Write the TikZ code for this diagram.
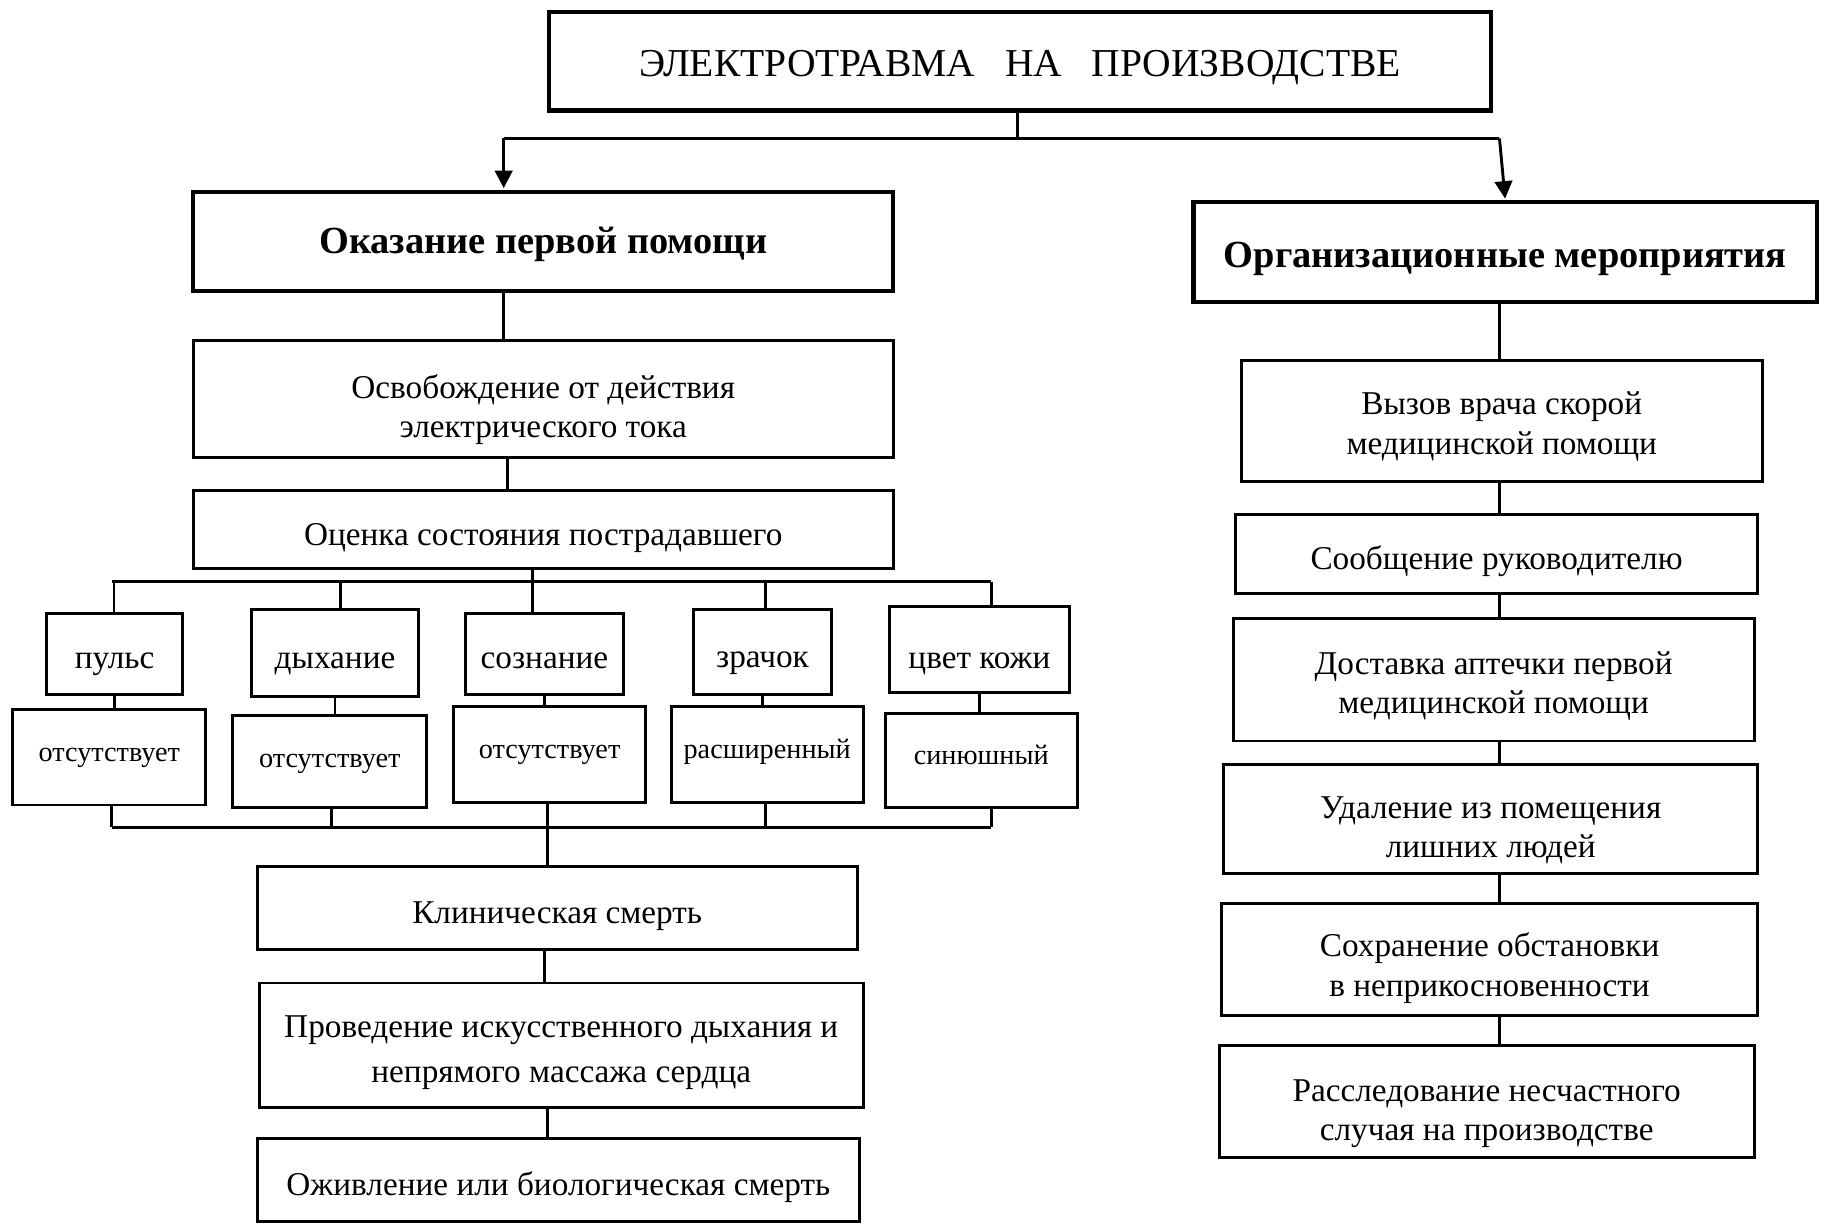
\documentclass[tikz,border=0pt]{standalone}
\usepackage{fontspec}
\setmainfont{Liberation Serif}
\usetikzlibrary{arrows.meta}

\begin{document}
\begin{tikzpicture}[x=1pt,y=-1pt,
	box/.style={draw,line width=2.5pt,inner sep=0pt,align=center,text height=33pt,text depth=6pt,font=\fontsize{28.6}{34}\selectfont},
	headbox/.style={box,line width=3.5pt,text height=27pt,text depth=7pt,font=\fontsize{33}{38}\selectfont\bfseries},
	parbox/.style={box,text height=31pt,text depth=5pt},
	valbox/.style={box,text height=13pt,text depth=6pt,font=\fontsize{24.3}{29}\selectfont},
	link/.style={line width=2.5pt},
	arr/.style={link,-{Triangle[length=15pt,width=15pt]},shorten >=1.5pt}]
			\useasboundingbox (0,0) rectangle (1568,1057);

			% top
			\node[box,line width=3.5pt,text height=26pt,text depth=0pt,font=\fontsize{34}{40}\selectfont,minimum width=810pt,minimum height=85pt] (title) at (877,52.5) {ЭЛЕКТРОТРАВМА\ \ \ НА\ \ \ ПРОИЗВОДСТВЕ};
			\node[headbox,minimum width=602pt,minimum height=85pt] (help) at (467,207.5) {Оказание первой помощи};
			\node[headbox,text height=33pt,minimum width=536pt,minimum height=86pt] (org) at (1294,217) {Организационные мероприятия};

			% first aid
			\node[box,text height=73pt,minimum width=602pt,minimum height=100pt] (osv) at (467,343) {Освобождение от действия\\электрического тока};
			\node[box,minimum width=602pt,minimum height=67pt] (ocen) at (467,455.5) {Оценка состояния пострадавшего};

			\node[parbox,minimum width=117pt,minimum height=70pt] (p1) at (98.5,562) {пульс};
			\node[parbox,minimum width=144pt,minimum height=75pt] (p2) at (288,561.5) {дыхание};
			\node[parbox,minimum width=136pt,minimum height=70pt] (p3) at (468,562) {сознание};
			\node[parbox,minimum width=119pt,minimum height=73pt] (p4) at (655.5,560.5) {зрачок};
			\node[parbox,text height=38pt,minimum width=154pt,minimum height=74pt] (p5) at (842,558) {цвет кожи};

			\node[valbox,minimum width=166pt,minimum height=82pt] (v1) at (94,651) {отсутствует};
			\node[valbox,text height=16pt,minimum width=167pt,minimum height=79pt] (v2) at (283.5,654.5) {отсутствует};
			\node[valbox,minimum width=165pt,minimum height=83pt] (v3) at (472.5,648.5) {отсутствует};
			\node[valbox,minimum width=165pt,minimum height=83pt] (v4) at (659.5,648.5) {расширенный};
			\node[valbox,minimum width=165pt,minimum height=81pt] (v5) at (843.5,653.5) {синюшный};

			\node[box,minimum width=516pt,minimum height=71pt] (klin) at (479,780.5) {Клиническая смерть};
			\node[box,text height=70pt,minimum width=519pt,minimum height=107pt,font=\fontsize{28.6}{39}\selectfont] (prov) at (482.5,898.5) {Проведение искусственного дыхания и\\непрямого массажа сердца};
			\node[box,minimum width=518pt,minimum height=71pt] (ozhiv) at (480,1014.5) {Оживление или биологическая смерть};

			% measures
			\node[box,text height=63pt,minimum width=448pt,minimum height=104pt] (r1) at (1291,362) {Вызов врача скорой\\медицинской помощи};
			\node[box,minimum width=449pt,minimum height=68pt] (r2) at (1286.5,476) {Сообщение руководителю};
			\node[box,text height=64pt,minimum width=448pt,minimum height=105pt] (r3) at (1284,584.5) {Доставка аптечки первой\\медицинской помощи};
			\node[box,text height=73pt,minimum width=459pt,minimum height=94pt] (r4) at (1281.5,704) {Удаление из помещения\\лишних людей};
			\node[box,text height=69pt,minimum width=461pt,minimum height=96pt] (r5) at (1280.5,825) {Сохранение обстановки\\в неприкосновенности};
			\node[box,text height=73pt,minimum width=460pt,minimum height=96pt] (r6) at (1278,947) {Расследование несчастного\\случая на производстве};

			% connectors
			\coordinate (split) at (875,119);
			\coordinate (sl) at (433,119);
			\coordinate (sr) at (1289,119);
			\draw[link] (title.south -| split) -- (split);
			\draw[link] (sl) -- (sr);
			\draw[arr] (sl) -- (sl |- help.north);
			\draw[arr] (sr) -- (org.north);

			\draw[link] ([xshift=-34pt]help.south) -- ([xshift=-34pt]osv.north);
			\draw[link] ([xshift=-31pt]osv.south) -- ([xshift=-31pt]ocen.north);

			\coordinate (bus) at (458,500);
			\coordinate (busl) at (96,500);
			\coordinate (busr) at (852,500);
			\draw[link] ([xshift=-9pt]ocen.south) -- (bus);
			\draw[link] (busl) -- (busr);
			\coordinate (t1) at (98,500);
			\coordinate (t2) at (293,500);
			\coordinate (t3) at (458,500);
			\coordinate (t4) at (658,500);
			\coordinate (t5) at (852,500);
			\foreach \i in {1,...,5}
			\draw[link] (t\i) -- (t\i |- p\i.north);
			\foreach \i in {1,...,5}
			\draw[link] (p\i.south) -- (p\i.south |- v\i.north);

			\coordinate (b1) at (96,711);
			\coordinate (b2) at (285,711);
			\coordinate (b4) at (658,711);
			\coordinate (b5) at (852,711);
			\draw[link] (b1) -- (b5);
			\foreach \i in {1,2,4,5}
			\draw[link] (b\i |- v\i.south) -- (b\i);
			\draw[link] ([xshift=-2pt]v3.south) -- ([xshift=-2pt]v3.south |- klin.north);
			\draw[link] ([xshift=-11pt]klin.south) -- ([xshift=-11pt]klin.south |- prov.north);
			\draw[link] ([xshift=-12pt]prov.south) -- ([xshift=-12pt]prov.south |- ozhiv.north);

			\coordinate (rx) at (1289,0);
			\draw[link] (org.south -| rx) -- (r1.north -| rx);
			\foreach \from/\to in {r1/r2,r2/r3,r3/r4,r4/r5,r5/r6}
			\draw[link] (\from.south -| rx) -- (\to.north -| rx);
\end{tikzpicture}
\end{document}
